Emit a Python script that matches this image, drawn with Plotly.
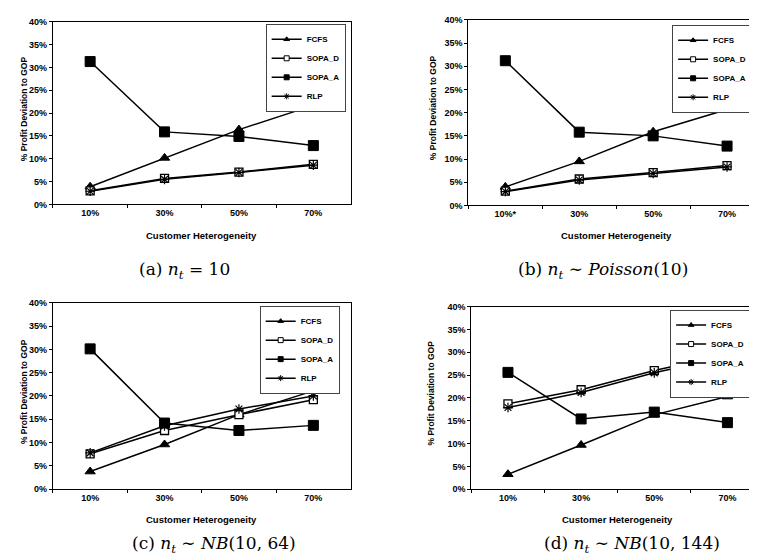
import plotly.graph_objects as go

# ---------------- data ----------------
categories = ["10%", "30%", "50%", "70%"]
categories_b = ["10%*", "30%", "50%", "70%"]
series_names = ["FCFS", "SOPA_D", "SOPA_A", "RLP"]

fcfs_a = [3.9, 10.2, 16.4, 21.7]
sopa_d_a = [3.0, 5.7, 7.1, 8.8]
sopa_a_a = [31.3, 15.9, 14.9, 12.9]
rlp_a = [2.9, 5.5, 7.0, 8.6]

fcfs_b = [4.0, 9.5, 15.9, 20.7]
sopa_d_b = [3.1, 5.7, 7.1, 8.6]
sopa_a_b = [31.2, 15.8, 15.0, 12.8]
rlp_b = [3.0, 5.5, 6.9, 8.3]

fcfs_c = [3.8, 9.6, 16.0, 21.1]
sopa_d_c = [7.6, 12.6, 16.0, 19.2]
sopa_a_c = [30.1, 14.2, 12.6, 13.7]
rlp_c = [7.8, 13.6, 17.2, 20.0]

fcfs_d = [3.3, 9.7, 16.3, 20.3]
sopa_d_d = [18.7, 21.8, 26.0, 29.5]
sopa_a_d = [25.6, 15.4, 16.9, 14.6]
rlp_d = [17.9, 21.2, 25.5, 29.0]

captions = [
    "(a) <i>n</i><sub><i>t</i></sub> = 10",
    "(b) <i>n</i><sub><i>t</i></sub> ∼ <i>Poisson</i>(10)",
    "(c) <i>n</i><sub><i>t</i></sub> ∼ <i>NB</i>(10, 64)",
    "(d) <i>n</i><sub><i>t</i></sub> ∼ <i>NB</i>(10, 144)",
]
x_title = "Customer Heterogeneity"
y_title = "% Profit Deviation to GOP"

# ---------------- layout geometry (pixels) ----------------
W, H = 757, 556
panels = [
    dict(x0=45, x1=343, yt=9, yb=195, lx=258, ly=11, cats=categories,
         data=(fcfs_a, sopa_d_a, sopa_a_a, rlp_a)),
    dict(x0=461, x1=757, yt=7, yb=196, lx=665, ly=12, cats=categories_b,
         data=(fcfs_b, sopa_d_b, sopa_a_b, rlp_b)),
    dict(x0=45, x1=343, yt=295, yb=485, lx=252, ly=298, cats=categories,
         data=(fcfs_c, sopa_d_c, sopa_a_c, rlp_c)),
    dict(x0=464, x1=757, yt=299, yb=485, lx=663, ly=302, cats=categories,
         data=(fcfs_d, sopa_d_d, sopa_a_d, rlp_d)),
]
caption_pos = [(177, 262), (596, 262), (206, 541), (625, 541)]
xtitle_y = [227, 227, 516, 516]
ytitle_x = [16, 425, 16, 424]

marker_styles = [
    dict(symbol="triangle-up", size=9, color="black", line=dict(color="black", width=1)),
    dict(symbol="square", size=8, color="white", line=dict(color="black", width=1.3)),
    dict(symbol="square", size=10, color="black", line=dict(color="black", width=1)),
    dict(symbol="asterisk-open", size=8, color="black", line=dict(color="black", width=1.2)),
]
legend_markers = [
    dict(symbol="triangle-up", size=5, color="black", line=dict(color="black", width=1)),
    dict(symbol="square", size=5, color="white", line=dict(color="black", width=1)),
    dict(symbol="square", size=5, color="black", line=dict(color="black", width=1)),
    dict(symbol="asterisk-open", size=5, color="black", line=dict(color="black", width=1)),
]

FONT = "Liberation Sans, Arial"
tickfont = dict(family=FONT, size=9, color="black", weight="bold")

fig = go.Figure()
layout = dict(
    width=W, height=H, margin=dict(l=0, r=0, t=0, b=0),
    paper_bgcolor="white", plot_bgcolor="white", showlegend=True,
    annotations=[],
)

for i, p in enumerate(panels):
    k = "" if i == 0 else str(i + 1)
    leg = "legend" if i == 0 else f"legend{i + 1}"
    for j, name in enumerate(series_names):
        fig.add_trace(go.Scatter(
            x=p["cats"], y=p["data"][j], name=name, mode="lines+markers",
            line=dict(color="black", width=1.5), marker=marker_styles[j],
            xaxis="x" + k, yaxis="y" + k, showlegend=False, cliponaxis=False,
        ))
    # legend entries with the small symbols used in the original legend
    for j, name in enumerate(series_names):
        fig.add_trace(go.Scatter(
            x=[None], y=[None], name=name, mode="lines+markers",
            line=dict(color="black", width=1.5), marker=legend_markers[j],
            xaxis="x" + k, yaxis="y" + k, legend=leg, showlegend=True,
        ))
    layout["xaxis" + k] = dict(
        domain=[p["x0"] / W, min(p["x1"] / W, 1.0)], anchor="y" + k,
        type="category", range=[-0.5, 3.5], showgrid=False,
        showline=True, linecolor="black", linewidth=1, mirror=True,
        ticks="outside", ticklen=3, tickson="boundaries", tickcolor="black",
        tickfont=tickfont, fixedrange=True,
    )
    layout["yaxis" + k] = dict(
        domain=[1 - p["yb"] / H, 1 - p["yt"] / H], anchor="x" + k,
        range=[0, 40], dtick=5, ticksuffix="%", showgrid=False,
        showline=True, linecolor="black", linewidth=1, mirror=True,
        ticks="outside", ticklen=3, tickcolor="black",
        tickfont=tickfont, fixedrange=True,
    )
    layout[leg] = dict(
        x=p["lx"] / W, y=1 - p["ly"] / H, xanchor="left",
        yanchor="top", bgcolor="white", bordercolor="#444", borderwidth=1,
        font=dict(family=FONT, size=8, color="black", weight="bold"),
        itemwidth=30, tracegroupgap=0,
    )
    cx = (p["x0"] + p["x1"]) / 2
    layout["annotations"] += [
        dict(text=x_title, x=cx / W, y=1 - xtitle_y[i] / H, xref="paper", yref="paper",
             showarrow=False, xanchor="center", yanchor="middle",
             font=dict(family=FONT, size=9.5, color="black", weight="bold")),
        dict(text=y_title, x=ytitle_x[i] / W, y=1 - ((p["yt"] + p["yb"]) / 2 - 5) / H,
             xref="paper", yref="paper", showarrow=False, textangle=-90,
             xanchor="center", yanchor="middle",
             font=dict(family=FONT, size=8.5, color="black", weight="bold")),
        dict(text=captions[i], x=caption_pos[i][0] / W, y=1 - caption_pos[i][1] / H,
             xref="paper", yref="paper", showarrow=False, xanchor="center", yanchor="middle",
             font=dict(family="DejaVu Serif, Liberation Serif, serif", size=17, color="black")),
    ]

fig.update_layout(**layout)
fig.write_html("out.html")
